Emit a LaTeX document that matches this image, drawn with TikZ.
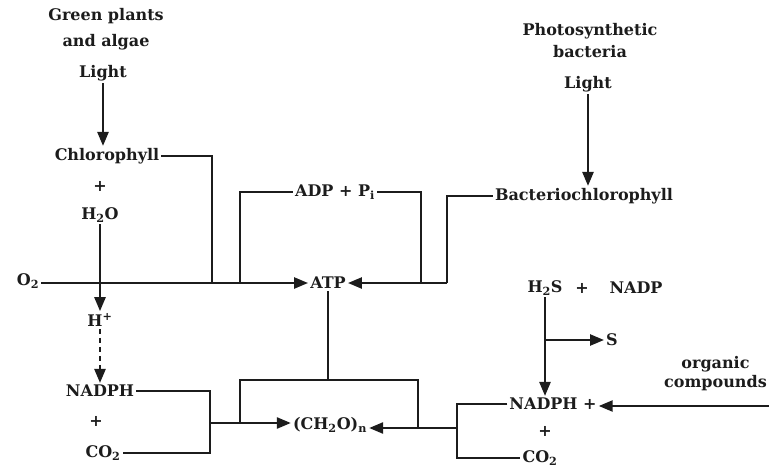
\documentclass[tikz,border=0pt]{standalone}
\usepackage{fontspec}
\setmainfont{DejaVu Serif}
\usetikzlibrary{arrows.meta}
\definecolor{photoInk}{HTML}{1C1C1C}
\tikzset{
  every picture/.style={font=\fontsize{16}{26}\selectfont\bfseries, text=photoInk},
  photo label/.style={inner sep=2pt, align=center},
  photo line/.style={draw=photoInk, line width=2.4pt},
  photo arrow/.style={-{Triangle[length=14pt,width=11pt]},
    draw=photoInk, line width=2.4pt},
  photo dashed/.style={photo arrow, dash pattern=on 5pt off 4pt}
}
\begin{document}
\begin{tikzpicture}[x=1pt, y=-1pt]
  \useasboundingbox (0,0) rectangle (769,469);
  % green plants side
  \node[photo label] (plants) at (106,29) {Green plants\\and algae};
  \node[photo label] (lightL) at (103,73) {Light};
  \node[photo label] (chl) at (107,156) {Chlorophyll};
  \node[photo label] (plusA) at (100,186) {+};
  \node[photo label] (h2o) at (100,215) {H\textsubscript{2}O};
  \node[photo label] (o2) at (28,281) {O\textsubscript{2}};
  \node[photo label] (hplus) at (100,320) {H\textsuperscript{+}};
  \node[photo label] (nadphL) at (100,391) {NADPH};
  \node[photo label] (plusB) at (96,421) {+};
  \node[photo label] (co2L) at (103,453) {CO\textsubscript{2}};
  % middle
  \node[photo label] (adp) at (335,192) {ADP + P\textsubscript{i}};
  \node[photo label] (atp) at (328,283) {ATP};
  \node[photo label] (ch2o) at (330,425) {(CH\textsubscript{2}O)\textsubscript{n}};
  % bacteria side
  \node[photo label, font=\fontsize{16}{22}\selectfont\bfseries] (bact) at (590,41) {Photosynthetic\\bacteria};
  \node[photo label] (lightR) at (588,84) {Light};
  \node[photo label] (bchl) at (584,196) {Bacteriochlorophyll};
  \node[photo label] (h2s) at (545,288) {H\textsubscript{2}S};
  \node[photo label] (plusC) at (582,288) {+};
  \node[photo label] (nadp) at (636,288) {NADP};
  \node[photo label] (sulfur) at (612,340) {S};
  \node[photo label] (nadphR) at (553,404) {NADPH +};
  \node[photo label] (plusD) at (545,431) {+};
  \node[photo label] (co2R) at (540,458) {CO\textsubscript{2}};
  \node[photo label, font=\fontsize{16}{19}\selectfont\bfseries, anchor=east] (organic) at (769,374) {organic\\compounds};
  % junctions
  \coordinate (jChl) at (212,283);
  \coordinate (jAdp) at (240,283);
  \coordinate (jPi) at (421,283);
  \coordinate (jBchl) at (447,283);
  \coordinate (jAtp) at (328,380);
  \coordinate (jLeft) at (240,423);
  \coordinate (jRight) at (418,428);
  \coordinate (jNadphL) at (210,423);
  \coordinate (jNadphR) at (457,428);
  \coordinate (jS) at (545,340);
  \coordinate (orgEnd) at (769,406);
  % light reactions
  \draw[photo arrow] (lightL.south) -- (lightL.south |- chl.north);
  \draw[photo arrow] (h2o.south) -- (h2o.south |- hplus.north);
  \draw[photo dashed] (hplus.south) -- (hplus.south |- nadphL.north);
  \draw[photo arrow] (lightR.south) -- (lightR.south |- bchl.north);
  \draw[photo line] (chl.east) -| (jChl);
  \draw[photo line] (adp.west) -| (jAdp);
  \draw[photo arrow] (o2.east |- jChl) -- (jChl -| atp.west);
  \draw[photo line] (adp.east) -| (jPi);
  \draw[photo line] (bchl.west) -| (jBchl);
  \draw[photo arrow] (jBchl) -- (jBchl -| atp.east);
  % dark reactions
  \draw[photo line] (atp.south) -- (jAtp);
  \draw[photo line] (jLeft) |- (jAtp) -| (jRight);
  \draw[photo line] (nadphL.east) -| (jNadphL) |- (co2L.east);
  \draw[photo arrow] (jNadphL) -- (jNadphL -| ch2o.west);
  \draw[photo line] (nadphR.west) -| (jNadphR) |- (co2R.west);
  \draw[photo arrow] (jNadphR) -- (jNadphR -| ch2o.east);
  \draw[photo arrow] (h2s.south) -- (h2s.south |- nadphR.north);
  \draw[photo arrow] (jS) -- (sulfur.west);
  \draw[photo arrow] (orgEnd) -- (orgEnd -| nadphR.east);
\end{tikzpicture}
\end{document}
